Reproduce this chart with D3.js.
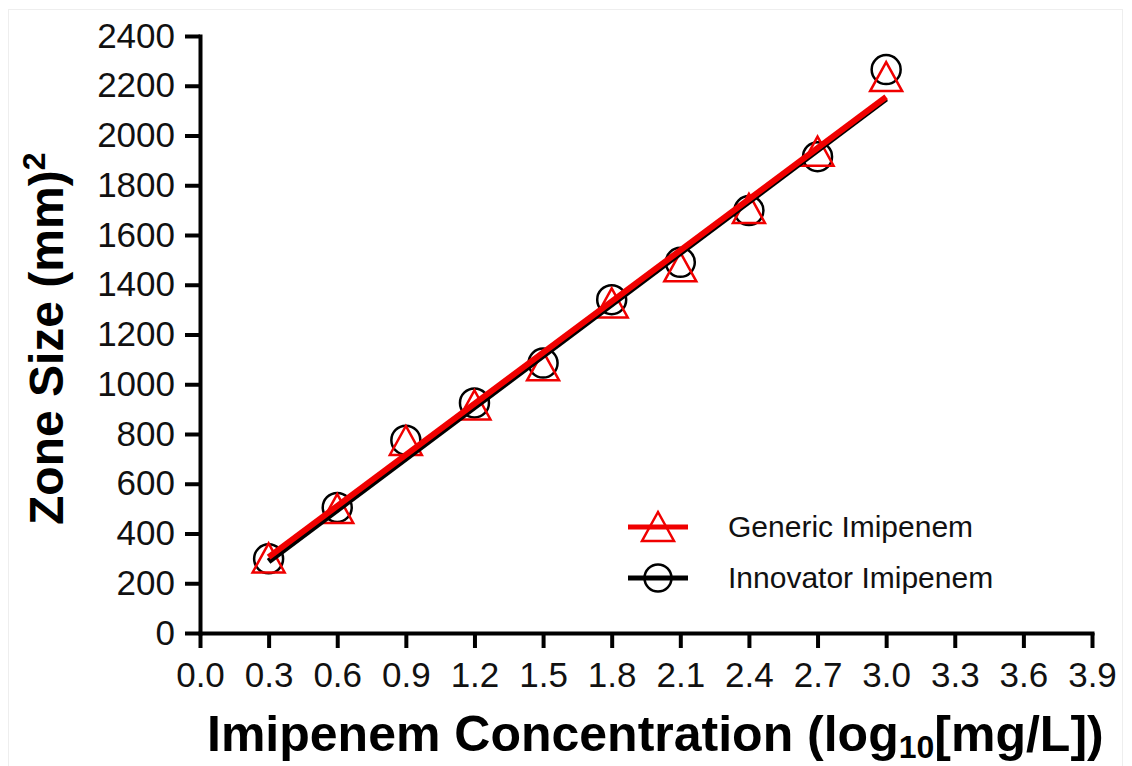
<!DOCTYPE html>
<html>
<head>
<meta charset="utf-8">
<script src="https://cdn.jsdelivr.net/npm/d3@7/dist/d3.min.js"></script>
<style>
  html, body { margin: 0; padding: 0; background: #fff; }
  svg { display: block; }
  text { font-family: "Liberation Sans", Arial, sans-serif; }
</style>
</head>
<body>
<svg id="chart" width="1132" height="766"></svg>
<script>
// ---- Data ----
const concentrations = [0.3, 0.6, 0.9, 1.2, 1.5, 1.8, 2.1, 2.4, 2.7, 3.0];
const genericZone   = [300, 498, 772, 915, 1072, 1325, 1470, 1705, 1935, 2235];
const innovatorZone = [298, 505, 775, 925, 1085, 1340, 1490, 1698, 1915, 2265];
const fitX = [0.3, 3.0];
const genericFit   = [305, 2155];
const innovatorFit = [288, 2148];
const xTicks = [0.0, 0.3, 0.6, 0.9, 1.2, 1.5, 1.8, 2.1, 2.4, 2.7, 3.0, 3.3, 3.6, 3.9];
const yTicks = [0, 200, 400, 600, 800, 1000, 1200, 1400, 1600, 1800, 2000, 2200, 2400];
const seriesNames = ["Generic Imipenem", "Innovator Imipenem"];

const svg = d3.select("#chart");
const RED = "#f00000";

// faint frame
svg.append("rect").attr("x", 8.5).attr("y", 9.5).attr("width", 1114).attr("height", 770)
  .attr("fill", "none").attr("stroke", "#eeeeee").attr("stroke-width", 1);

const x = d3.scaleLinear().domain([0, 3.9]).range([200, 1092]);
const y = d3.scaleLinear().domain([0, 2400]).range([633, 36]);

// axes
const xAxis = d3.axisBottom(x).tickValues(xTicks).tickFormat(d3.format(".1f"))
  .tickSize(15).tickSizeOuter(0).tickPadding(14);
const yAxis = d3.axisLeft(y).tickValues(yTicks).tickFormat(d3.format("d"))
  .tickSize(15).tickSizeOuter(0).tickPadding(10);

const gx = svg.append("g").attr("transform", "translate(0,633)").call(xAxis);
const gy = svg.append("g").attr("transform", "translate(200,0)").call(yAxis);
[gx, gy].forEach(g => {
  g.select(".domain").attr("stroke", "#000").attr("stroke-width", 4).attr("stroke-linecap", "square");
  g.selectAll(".tick line").attr("stroke", "#000").attr("stroke-width", 4);
  g.selectAll(".tick text").attr("fill", "#111").style("font-size", "35px")
    .style("font-family", "'Liberation Sans', Arial, sans-serif");
});

// markers
const plot = svg.append("g");
const triPath = "M0,-15L16,14L-16,14Z";

plot.selectAll("circle.innov").data(concentrations).join("circle")
  .attr("class", "innov")
  .attr("cx", d => x(d)).attr("cy", (d, i) => y(innovatorZone[i]))
  .attr("r", 14.5).attr("fill", "none").attr("stroke", "#000").attr("stroke-width", 2.5);

plot.selectAll("path.gen").data(concentrations).join("path")
  .attr("class", "gen")
  .attr("transform", (d, i) => `translate(${x(d)},${y(genericZone[i])})`)
  .attr("d", triPath).attr("fill", "none").attr("stroke", RED).attr("stroke-width", 2.5)
  .attr("stroke-linejoin", "miter");

// fit lines
const line = d3.line().x(d => x(d[0])).y(d => y(d[1]));
plot.append("path").datum(fitX.map((v, i) => [v, innovatorFit[i]]))
  .attr("d", line).attr("stroke", "#000").attr("stroke-width", 6).attr("fill", "none");
plot.append("path").datum(fitX.map((v, i) => [v, genericFit[i]]))
  .attr("d", line).attr("stroke", RED).attr("stroke-width", 6).attr("fill", "none");

// legend
const lg = svg.append("g");
const legendRows = [
  {name: seriesNames[0], color: RED, y: 527, marker: "tri"},
  {name: seriesNames[1], color: "#000", y: 578, marker: "circ"}
];
legendRows.forEach(r => {
  lg.append("line").attr("x1", 628).attr("x2", 688).attr("y1", r.y).attr("y2", r.y)
    .attr("stroke", r.color).attr("stroke-width", 5);
  if (r.marker === "tri") {
    lg.append("path").attr("transform", `translate(658,${r.y})`).attr("d", triPath)
      .attr("fill", "none").attr("stroke", r.color).attr("stroke-width", 2.5);
  } else {
    lg.append("circle").attr("cx", 658).attr("cy", r.y).attr("r", 13.5)
      .attr("fill", "none").attr("stroke", r.color).attr("stroke-width", 2.5);
  }
  lg.append("text").attr("x", 728).attr("y", r.y + 10).style("font-size", "30px")
    .attr("fill", "#111").text(r.name);
});

// x-axis title
const xt = svg.append("text").attr("x", 207).attr("y", 751)
  .style("font-size", "50px").style("font-weight", "bold").attr("fill", "#000");
xt.append("tspan").text("Imipenem Concentration (log");
xt.append("tspan").attr("dy", 7).style("font-size", "32px").text("10");
xt.append("tspan").attr("dy", -7).text("[mg/L])");

// y-axis title
const yt = svg.append("text").attr("transform", "translate(63,525) rotate(-90)")
  .attr("x", 0).attr("y", 0)
  .style("font-size", "48px").style("font-weight", "bold").attr("fill", "#000");
yt.append("tspan").text("Zone Size (mm)");
yt.append("tspan").attr("dy", -18).style("font-size", "32px").text("2");
</script>
</body>
</html>
